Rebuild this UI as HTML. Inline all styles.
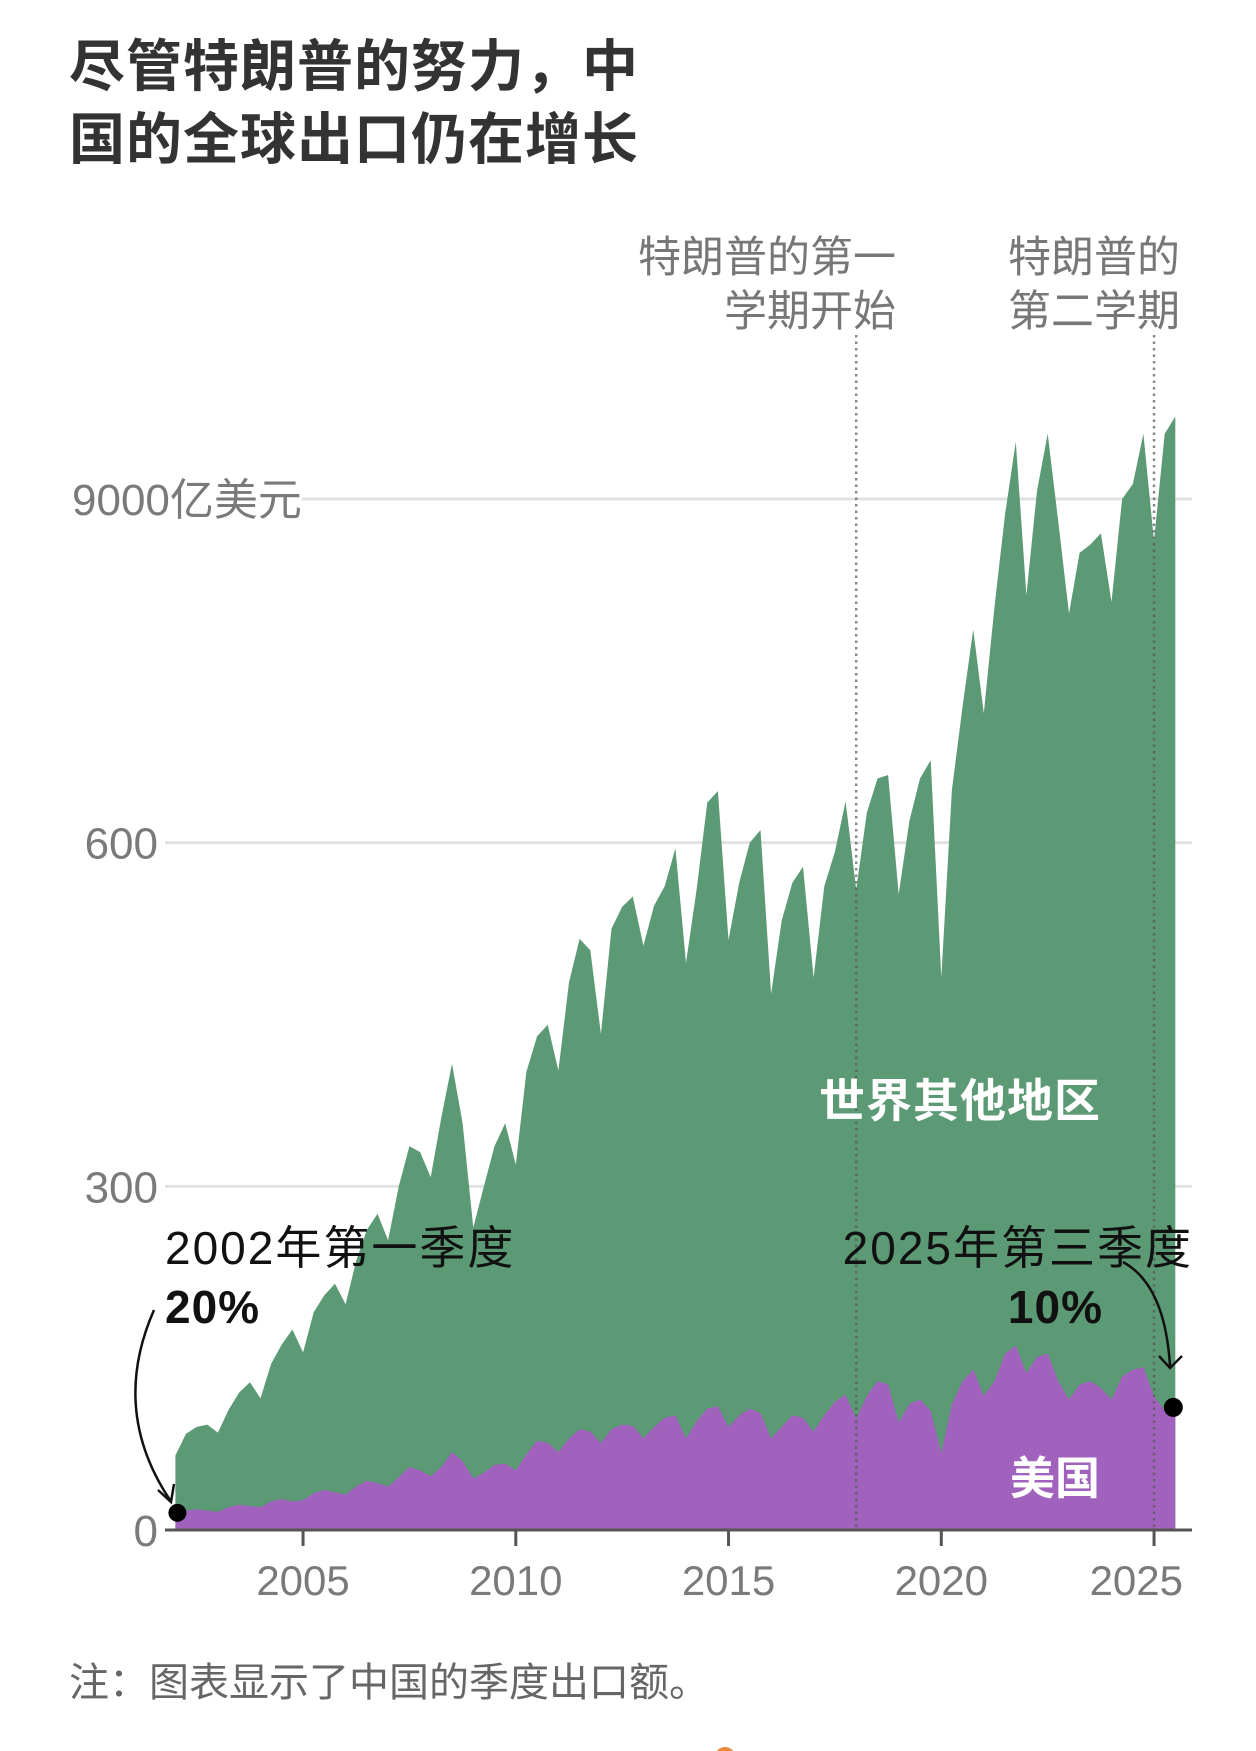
<!DOCTYPE html>
<html><head><meta charset="utf-8"><style>
html,body{margin:0;padding:0;background:#fff;}
body{width:1256px;height:1751px;overflow:hidden;position:relative;font-family:"Liberation Sans","Noto Sans CJK SC",sans-serif;}
.title{position:absolute;left:69px;top:30px;font-size:56px;font-weight:bold;color:#333;line-height:73px;letter-spacing:1px;}
.note{position:absolute;left:69px;top:1650px;font-size:40px;color:#666;}
svg{position:absolute;left:0;top:0;}
</style></head><body>
<div class="title">尽管特朗普的努力，中<br>国的全球出口仍在增长</div>
<svg id="chart" width="1256" height="1751"></svg>
<div class="note">注：图表显示了中国的季度出口额。</div>
<script>
const startYear = 2002;
const totalExports = [
 65,84,90,92, 85,105,120,129, 115,145,162,175, 155,190,205,215, 197,235,262,276,
 253,300,335,330, 308,360,407,355, 264,300,335,355, 319,400,431,441, 401,478,516,506,
 433,525,544,553, 510,545,562,595, 495,559,635,645, 515,565,600,611, 468,532,565,579,
 482,562,592,636, 559,626,656,659, 555,619,656,672, 482,646,719,786, 713,806,887,950,
 816,907,957,880, 800,853,860,870, 810,900,913,957, 863,957,972];
const usExports = [
 15,17,18,17, 16,20,22,21, 20,25,27,25, 26,32,35,33, 31,38,43,41,
 38,46,55,52, 47,55,68,60, 45,50,57,58, 52,66,78,76, 68,80,88,86,
 76,88,92,91, 80,90,98,100, 80,95,106,108, 90,100,106,102, 80,90,100,98,
 86,100,112,118, 97,117,130,127, 94,110,114,104, 67,110,130,140, 117,130,154,161,
 137,151,154,130, 114,127,130,124, 114,134,140,142, 117,104,107];
const yTicks = [0,300,600,900];
const yTickLabels = ["0","300","600","9000亿美元"];
const xTicks = [2005,2010,2015,2020,2025];
const termYears = [2018.0,2025.0];

const NS="http://www.w3.org/2000/svg";
const svg=document.getElementById('chart');
function xs(yr){return 175.4+(yr-2002)*42.55;}
function ys(v){return 1530-v*1.1456;}
function qx(i){return xs(startYear+i/4);}
function mk(tag,attrs,parent){const e=document.createElementNS(NS,tag);for(const k in attrs)e.setAttribute(k,attrs[k]);(parent||svg).appendChild(e);return e;}

yTicks.forEach((v,i)=>{
  if(v===0)return;
  const g=mk('line',{x1:i===3?302:165,x2:1192,y1:ys(v),y2:ys(v),stroke:'#e2e2e2','stroke-width':3});
  
  
});
function areaPath(arr){let d='M'+qx(0)+','+ys(0);arr.forEach((v,i)=>{d+=' L'+qx(i).toFixed(1)+','+ys(v).toFixed(1);});d+=' L'+qx(arr.length-1).toFixed(1)+','+ys(0)+' Z';return d;}
const ga=mk('path',{d:areaPath(totalExports),fill:'#5b9a74'});


const pa=mk('path',{d:areaPath(usExports),fill:'#a062bd'});


termYears.forEach((yr,i)=>{
  const l=mk('line',{x1:xs(yr),x2:xs(yr),y1:335,y2:1530,stroke:'#555','stroke-width':2.5,'stroke-dasharray':'2.5,4','stroke-opacity':0.7});
  
  
});
const ax=mk('line',{x1:165,x2:1192,y1:1530,y2:1530,stroke:'#555','stroke-width':3});


xTicks.forEach((yr,i)=>{
  const t=mk('line',{x1:xs(yr),x2:xs(yr),y1:1530,y2:1546,stroke:'#555','stroke-width':3});
  
  
  const last=i===xTicks.length-1;
  const tx=mk('text',{x:last?1183:xs(yr),y:1595,'text-anchor':last?'end':'middle','font-size':42,fill:'#7a7a7a'});
  tx.textContent=yr;
  
  
});
yTicks.forEach((v,i)=>{
  const t=mk('text',{x:i===3?72:158,y:ys(v)+16,'text-anchor':i===3?'start':'end','font-size':44,fill:'#7a7a7a'});
  t.textContent=yTickLabels[i];
  
  
});
function txt(s,a,name){const t=mk('text',a);t.textContent=s;return t;}
txt('特朗普的第一',{x:896,y:272,'text-anchor':'end','font-size':43,fill:'#777'},'term1-label-line1');
txt('学期开始',{x:896,y:326,'text-anchor':'end','font-size':43,fill:'#777'},'term1-label-line2');
txt('特朗普的',{x:1180,y:272,'text-anchor':'end','font-size':43,fill:'#777'},'term2-label-line1');
txt('第二学期',{x:1180,y:326,'text-anchor':'end','font-size':43,fill:'#777'},'term2-label-line2');
txt('世界其他地区',{x:819,y:1117,'font-size':46,'font-weight':'bold',fill:'#fff','letter-spacing':1},'rest-of-world-label');
txt('美国',{x:1010,y:1494,'font-size':45,'font-weight':'bold',fill:'#fff'},'us-label');
txt('2002年第一季度',{x:165,y:1264,'font-size':46,fill:'#111','letter-spacing':2},'start-annotation');
txt('20%',{x:165,y:1323,'font-size':46,'font-weight':'bold',fill:'#111','letter-spacing':1},'start-share');
txt('2025年第三季度',{x:1193,y:1264,'text-anchor':'end','font-size':46,fill:'#111','letter-spacing':2},'end-annotation');
txt('10%',{x:1103,y:1323,'text-anchor':'end','font-size':46,'font-weight':'bold',fill:'#111','letter-spacing':1},'end-share');
const a1=mk('path',{d:'M154,1310 Q110,1410 170,1500',fill:'none',stroke:'#111','stroke-width':2.5});


mk('path',{d:'M158,1490 L171,1502 L174,1484',fill:'none',stroke:'#111','stroke-width':2.5});
const a2=mk('path',{d:'M1123,1262 Q1165,1285 1170,1366',fill:'none',stroke:'#111','stroke-width':2.5});


mk('path',{d:'M1159,1356 L1170,1368 L1182,1356',fill:'none',stroke:'#111','stroke-width':2.5});
const n=usExports.length-1;
const d1=mk('circle',{cx:qx(0)+2,cy:ys(usExports[0]),r:9,fill:'#000'});


const d2=mk('circle',{cx:qx(n)-2,cy:ys(usExports[n]),r:9.5,fill:'#000'});


const ob=mk('circle',{cx:725,cy:1757,r:10,fill:'#e8893a'});


</script>
</body></html>
